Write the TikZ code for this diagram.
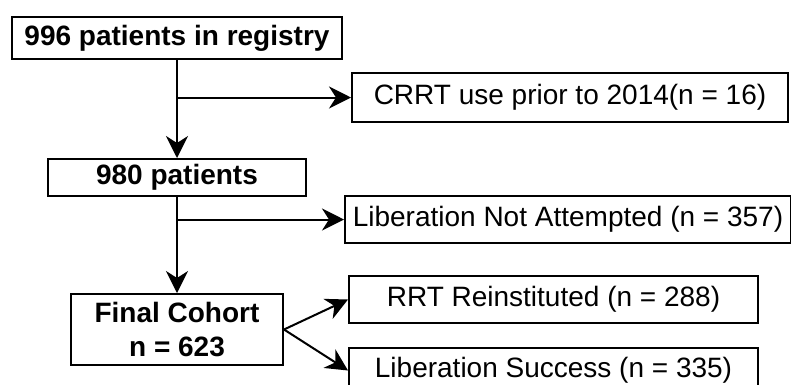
\documentclass[tikz,border=0pt]{standalone}
\usepackage{fontspec}
\setmainfont{Liberation Sans}
\usetikzlibrary{arrows.meta}
\begin{document}
\begin{tikzpicture}[x=1pt,y=-1pt,
  box/.style={draw, line width=2pt, inner sep=0pt, anchor=north west, align=center},
  bold/.style={font=\bfseries\fontsize{28}{34}\selectfont},
  plain/.style={font=\fontsize{28}{32}\selectfont},
  arr/.style={line width=2pt, -{Stealth[length=22pt,width=22pt,inset=7pt]}}]
\useasboundingbox (0,0) rectangle (791,384);
\node[box, bold, minimum width=330pt, minimum height=42pt] (a) at (11,16) {996 patients in registry};
\node[box, plain, minimum width=436pt, minimum height=49pt] (b) at (351,72) {CRRT use prior to 2014(n = 16)};
\node[box, bold, minimum width=258pt, minimum height=37pt] (c) at (47,158) {980 patients};
\node[box, plain, minimum width=446pt, minimum height=47pt] (d) at (344,195) {Liberation Not Attempted (n = 357)};
\node[box, bold, minimum width=212pt, minimum height=71pt] (e) at (70,293) {Final Cohort\\n = 623};
\node[box, plain, minimum width=409pt, minimum height=47pt] (f) at (348,275) {RRT Reinstituted (n = 288)};
\node[box, plain, minimum width=409pt, minimum height=45pt] (g) at (348,347) {Liberation Success (n = 335)};
\coordinate (j1) at (a.south |- b.west);
\coordinate (j2) at (c.south |- d.west);
\draw[arr] (a.south) -- (c.north);
\draw[arr] (j1) -- (b.west);
\draw[arr] (c.south) -- (e.north);
\draw[arr] (j2) -- (d.west);
\draw[arr] (e.east) -- (f.west);
\draw[arr] (e.east) -- (g.west);
\end{tikzpicture}
\end{document}
